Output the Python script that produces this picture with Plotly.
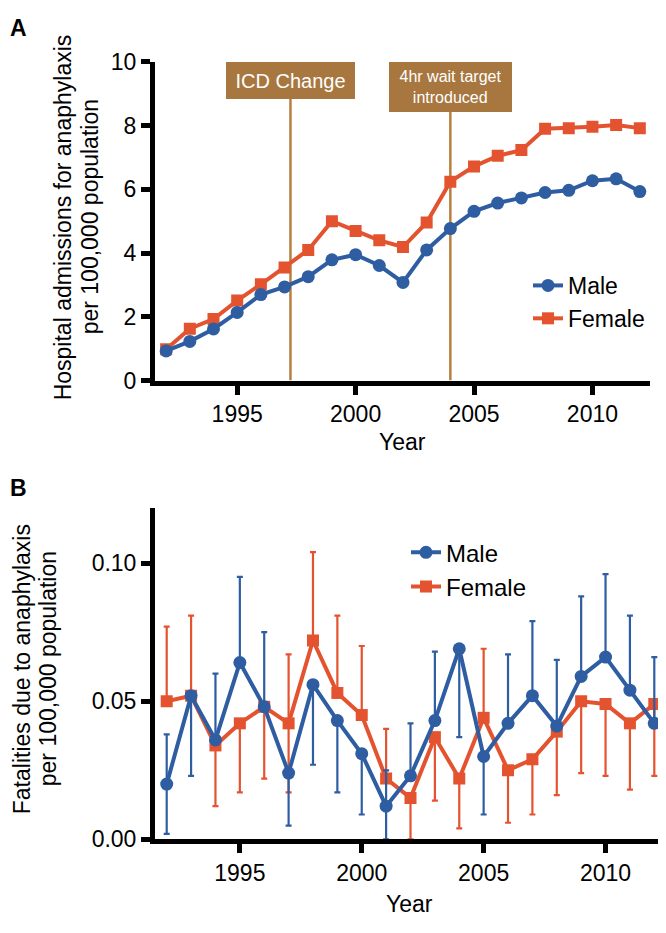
import plotly.graph_objects as go

YEARS = list(range(1992, 2013))

# Panel A - hospital admissions per 100,000
ADMISSIONS_MALE = [0.93, 1.23, 1.62, 2.14, 2.70, 2.94, 3.26, 3.79, 3.95, 3.61, 3.08,
                   4.10, 4.77, 5.31, 5.57, 5.73, 5.90, 5.97, 6.27, 6.33, 5.93]
ADMISSIONS_FEMALE = [0.98, 1.63, 1.93, 2.51, 3.02, 3.55, 4.10, 5.00, 4.69, 4.40, 4.19,
                     4.96, 6.24, 6.72, 7.05, 7.23, 7.90, 7.92, 7.96, 8.02, 7.92]

EVENT_LABELS = ['ICD Change', '4hr wait target<br>introduced']
EVENT_YEARS = [1997.25, 2004.0]

# Panel B - fatalities per 100,000 (None = no bar drawn on that side)
FATALITIES_MALE = [0.020, 0.052, 0.036, 0.064, 0.048, 0.024, 0.056, 0.043, 0.031, 0.012, 0.023,
                   0.043, 0.069, 0.030, 0.042, 0.052, 0.041, 0.059, 0.066, 0.054, 0.042]
FATALITIES_FEMALE = [0.050, 0.052, 0.034, 0.042, 0.048, 0.042, 0.072, 0.053, 0.045, 0.022, 0.015,
                     0.037, 0.022, 0.044, 0.025, 0.029, 0.039, 0.050, 0.049, 0.042, 0.049]
MALE_UPPER = [0.038, None, 0.060, 0.095, 0.075, None, None, None, None, 0.025, 0.042,
              0.068, None, None, 0.067, 0.079, 0.065, 0.088, 0.096, 0.081, 0.066]
MALE_LOWER = [0.002, 0.023, None, None, None, 0.005, 0.027, 0.017, 0.009, 0.0, None,
              None, 0.037, 0.009, None, None, None, None, None, None, None]
FEMALE_UPPER = [0.077, 0.081, None, None, None, 0.067, 0.104, 0.081, 0.070, 0.040, None,
                None, None, 0.069, None, None, None, None, None, None, None]
FEMALE_LOWER = [None, None, 0.012, 0.017, 0.022, 0.017, None, None, None, None, 0.0,
                0.014, 0.004, None, 0.006, 0.009, 0.016, 0.024, 0.023, 0.018, 0.023]

BLUE = '#2E5DA2'
ORANGE = '#E4532F'
BROWN = '#A8773F'
FONT = 'Liberation Sans, Arial, sans-serif'

# page body adds an 8px margin, so the figure is 8px smaller and positions are shifted
W, H, OFF = 658, 925, 8


def px_x(px):
    return (px - OFF) / W


def px_y(py):
    return 1 - (py - OFF) / H


def err_plus(values, upper):
    return [u - v if u is not None else 0 for v, u in zip(values, upper)]


def err_minus(values, lower):
    return [v - l if l is not None else 0 for v, l in zip(values, lower)]


fig = go.Figure()

# Panel A
fig.add_trace(go.Scatter(
    x=YEARS, y=ADMISSIONS_FEMALE, name='Female', mode='lines+markers',
    line=dict(color=ORANGE, width=4), marker=dict(symbol='square', size=12),
    xaxis='x', yaxis='y', legend='legend', legendrank=2))
fig.add_trace(go.Scatter(
    x=YEARS, y=ADMISSIONS_MALE, name='Male', mode='lines+markers',
    line=dict(color=BLUE, width=4), marker=dict(symbol='circle', size=13),
    xaxis='x', yaxis='y', legend='legend', legendrank=1))

# Panel B
fig.add_trace(go.Scatter(
    x=YEARS, y=FATALITIES_FEMALE, name='Female', mode='lines+markers',
    line=dict(color=ORANGE, width=4), marker=dict(symbol='square', size=12),
    error_y=dict(type='data', symmetric=False,
                 array=err_plus(FATALITIES_FEMALE, FEMALE_UPPER),
                 arrayminus=err_minus(FATALITIES_FEMALE, FEMALE_LOWER),
                 color=ORANGE, thickness=2.2, width=3),
    xaxis='x2', yaxis='y2', legend='legend2', legendrank=2))
fig.add_trace(go.Scatter(
    x=YEARS, y=FATALITIES_MALE, name='Male', mode='lines+markers',
    line=dict(color=BLUE, width=4), marker=dict(symbol='circle', size=13),
    error_y=dict(type='data', symmetric=False,
                 array=err_plus(FATALITIES_MALE, MALE_UPPER),
                 arrayminus=err_minus(FATALITIES_MALE, MALE_LOWER),
                 color=BLUE, thickness=2.2, width=3),
    xaxis='x2', yaxis='y2', legend='legend2', legendrank=1))

# Event markers
box_sizes = [(129, 37, 20), (123, 50, 16)]
for label, yr, (w, h, fs) in zip(EVENT_LABELS, EVENT_YEARS, box_sizes):
    fig.add_shape(type='line', xref='x', yref='y', x0=yr, x1=yr, y0=0, y1=9.5,
                  line=dict(color='#B5803F', width=2.5), layer='below')
    fig.add_annotation(x=yr, y=10, xref='x', yref='y', text=label, showarrow=False,
                       xanchor='center', yanchor='top', width=w, height=h,
                       bgcolor=BROWN, borderpad=0, borderwidth=0,
                       font=dict(color='white', size=fs, family=FONT))

axis_style = dict(showline=True, linewidth=5, linecolor='black', ticks='outside',
                  ticklen=9, tickwidth=5, tickcolor='black', showgrid=False,
                  zeroline=False, tickfont=dict(size=23, color='black', family=FONT))

fig.update_layout(
    width=W, height=H,
    margin=dict(l=0, r=0, t=0, b=0),
    paper_bgcolor='white', plot_bgcolor='white',
    font=dict(family=FONT, color='black'),
    xaxis=dict(domain=[px_x(155), px_x(650)], range=[1991.53, 2012.43],
               tickvals=[1995, 2000, 2005, 2010], anchor='y', **axis_style),
    yaxis=dict(domain=[px_y(378), px_y(50)], range=[0, 10], dtick=2, anchor='x',
               **axis_style),
    xaxis2=dict(domain=[px_x(155), 1.0], range=[1991.52, 2012.48],
                tickvals=[1995, 2000, 2005, 2010], anchor='y2', **axis_style),
    yaxis2=dict(domain=[px_y(850), px_y(509)], range=[0, 0.12], tickvals=[0, 0.05, 0.10],
                tickformat='.2f', anchor='x2', **axis_style),
    legend=dict(x=px_x(528), y=px_y(258), xanchor='left', yanchor='top',
                bgcolor='rgba(0,0,0,0)', font=dict(size=23, family=FONT)),
    legend2=dict(x=px_x(406), y=px_y(532), xanchor='left', yanchor='top',
                 bgcolor='rgba(0,0,0,0)', font=dict(size=24, family=FONT)),
)

# Axis titles (one annotation per line) and panel letters
texts = [
    ('Hospital admissions for anaphylaxis', 63, 210, -90),
    ('per 100,000 population', 90, 210, -90),
    ('Fatalities due to anaphylaxis', 22, 675, -90),
    ('per 100,000 population', 48, 675, -90),
    ('Year', 402, 441, 0),
    ('Year', 410, 917, 0),
]
for txt, x, y, ang in texts:
    fig.add_annotation(text=txt, x=px_x(x), y=px_y(y), xref='paper', yref='paper',
                       showarrow=False, xanchor='center', yanchor='middle', textangle=ang,
                       font=dict(size=23, color='black', family=FONT))

for letter, y in [('A', 15), ('B', 488)]:
    fig.add_annotation(text='<b>%s</b>' % letter, x=0.0, y=px_y(y), xref='paper', yref='paper',
                       showarrow=False, xanchor='left', yanchor='middle',
                       font=dict(size=23, color='black', family=FONT))

fig.write_html("out.html")
